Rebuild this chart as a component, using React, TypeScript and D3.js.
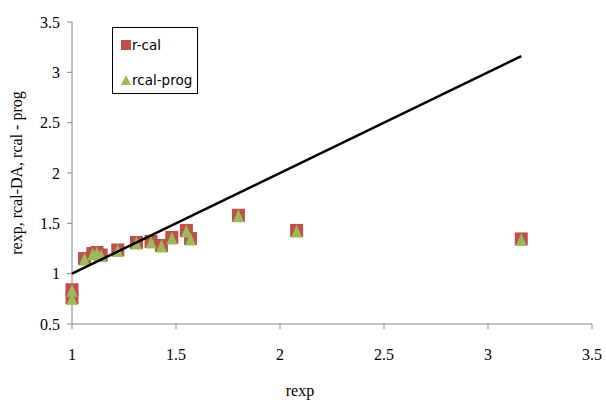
import React from "react";
import * as d3 from "d3";

const rexp = [1.0, 1.0, 1.06, 1.1, 1.12, 1.14, 1.22, 1.31, 1.38, 1.43, 1.48, 1.55, 1.57, 1.8, 2.08, 3.16];
const rcal = [0.84, 0.76, 1.15, 1.2, 1.21, 1.185, 1.235, 1.31, 1.32, 1.28, 1.36, 1.43, 1.35, 1.58, 1.43, 1.345];
const rcalProg = [0.84, 0.76, 1.15, 1.2, 1.21, 1.185, 1.235, 1.31, 1.32, 1.28, 1.36, 1.43, 1.35, 1.58, 1.43, 1.345];
const xTicks = [1, 1.5, 2, 2.5, 3, 3.5];
const yTicks = [0.5, 1, 1.5, 2, 2.5, 3, 3.5];
const lineX = [1, 3.16];

export default function App() {
  const W = 606, H = 402;
  const x = d3.scaleLinear().domain([1, 3.5]).range([72, 592]);
  const y = d3.scaleLinear().domain([0.5, 3.5]).range([324, 22]);
  const axisColor = "#868686";
  const serif = "'Liberation Serif', 'Times New Roman', serif";
  const sans = "'DejaVu Sans', sans-serif";
  const red = "#C0504D";
  const green = "#9BBB59";
  const line = d3.line<number>().x((d) => x(d)).y((d) => y(d));
  const tri = (cx: number, cy: number, w: number, h: number) =>
    `M${cx},${cy - h / 2}L${cx + w / 2},${cy + h / 2}L${cx - w / 2},${cy + h / 2}Z`;

  return (
    <svg width={W} height={H} style={{ position: "absolute", left: 0, top: 0, background: "#fff" }}>
      <rect x={0} y={0} width={W} height={H} fill="#fff" />
      {/* axes */}
      <line x1={x(1)} x2={x(1)} y1={y(3.5)} y2={y(0.5)} stroke={axisColor} strokeWidth={1} />
      <line x1={x(1)} x2={x(3.5)} y1={y(0.5)} y2={y(0.5)} stroke={axisColor} strokeWidth={1} />
      {yTicks.map((t) => (
        <g key={"y" + t}>
          <line x1={x(1) - 5} x2={x(1)} y1={y(t)} y2={y(t)} stroke={axisColor} />
          <text x={60} y={y(t)} dy="0.35em" textAnchor="end" fontFamily={serif} fontSize={16} fill="#000">
            {t}
          </text>
        </g>
      ))}
      {xTicks.map((t) => (
        <g key={"x" + t}>
          <line x1={x(t)} x2={x(t)} y1={y(0.5)} y2={y(0.5) + 5} stroke={axisColor} />
          <text x={x(t)} y={360} textAnchor="middle" fontFamily={serif} fontSize={16} fill="#000">
            {t}
          </text>
        </g>
      ))}
      <text x={300} y={396} textAnchor="middle" fontFamily={serif} fontSize={16} fill="#000">
        rexp
      </text>
      <text
        transform={`translate(22,${173}) rotate(-90)`}
        textAnchor="middle"
        fontFamily={serif}
        fontSize={16}
        fill="#000"
      >
        rexp, rcal-DA, rcal - prog
      </text>
      {/* points */}
      {rexp.map((v, i) => (
        <rect key={"r" + i} x={x(v) - 6.5} y={y(rcal[i]) - 6.5} width={13} height={13} fill={red} />
      ))}
      {rexp.map((v, i) => (
        <path key={"g" + i} d={tri(x(v), y(rcalProg[i]) + 0.5, 11, 13)} fill={green} />
      ))}
      {/* y = x line */}
      <path d={line(lineX) || ""} stroke="#000" strokeWidth={2.5} fill="none" />
      {/* legend */}
      <rect x={112.5} y={27.5} width={85} height={66} fill="#fff" stroke="#000" strokeWidth={1} />
      <rect x={121} y={40} width={10} height={10} fill={red} />
      <text x={132} y={50} fontFamily={sans} fontSize={13.5} fill="#000">r-cal</text>
      <path d={tri(126, 80, 10, 10)} fill={green} />
      <text x={132} y={85} fontFamily={sans} fontSize={13.5} fill="#000">rcal-prog</text>
    </svg>
  );
}
